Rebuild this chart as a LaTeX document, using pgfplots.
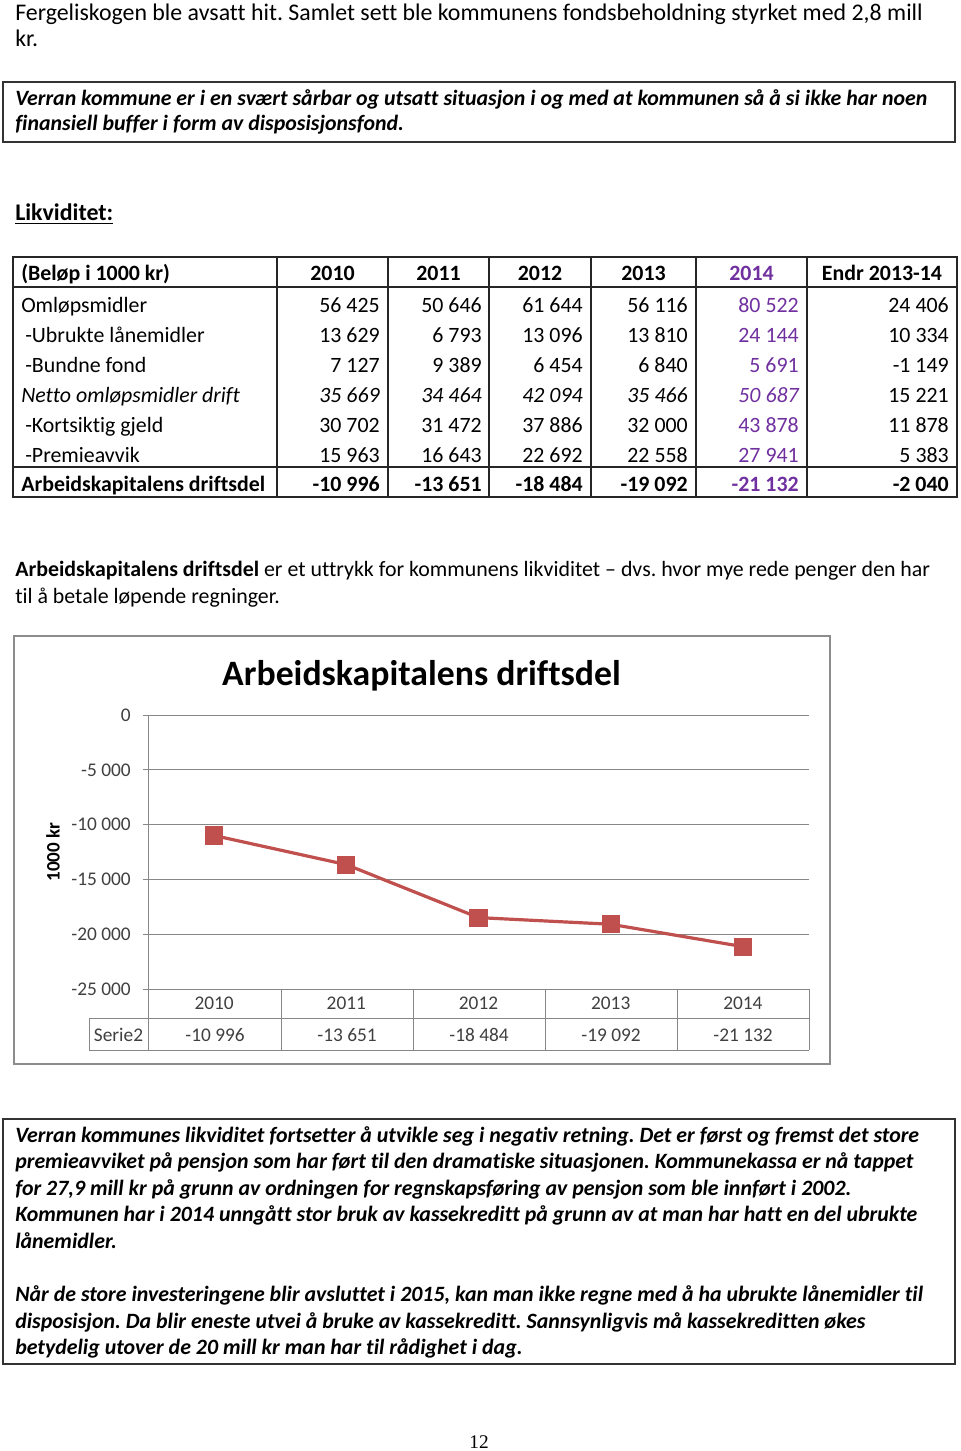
\documentclass[border=0pt]{standalone}
\usepackage{fontspec}
\setmainfont{Carlito}[Ligatures=NoCommon]
\newfontfamily\serif{Liberation Serif}
\usepackage{pgfplots}
\pgfplotsset{compat=1.18}

\definecolor{excelred}{HTML}{C0504D}
\definecolor{wpurple}{HTML}{7030A0}
\definecolor{gridgray}{HTML}{878787}
\definecolor{labgray}{HTML}{404040}
\definecolor{framegray}{HTML}{8C8C8C}
\newcommand\tsize{\fontsize{16.4}{19.5}\selectfont}
\newcommand\bsize{\fontsize{17.9}{21}\selectfont}
% one table row of numbers: y, font, endr font, 2010..2014, endr
\newcommand\vals[9]{%
  \node[t,anchor=base east,font={\tsize#2}] at (380,#1) {#4};
  \node[t,anchor=base east,font={\tsize#2}] at (482,#1) {#5};
  \node[t,anchor=base east,font={\tsize#2}] at (583,#1) {#6};
  \node[t,anchor=base east,font={\tsize#2}] at (688,#1) {#7};
  \node[t,anchor=base east,font={\tsize#2},text=wpurple] at (799,#1) {#8};
  \node[t,anchor=base east,font={\tsize#3}] at (949,#1) {#9};}

\begin{document}
\frenchspacing
\begin{tikzpicture}
\begin{scope}[x=0.75pt,y=-0.75pt]
\tikzset{t/.style={inner sep=0pt, font=\tsize}}
\fill[white] (0,0) rectangle (960,1451);
% text above
\node[t,anchor=base west,font=\bsize] at (15,21) {Fergeliskogen ble avsatt hit. Samlet sett ble kommunens fondsbeholdning styrket med 2,8 mill};
\node[t,anchor=base west,font=\bsize] at (15,47) {kr.};
\draw[black!80, line width=1.1pt] (3,82) rectangle (955,142);
\node[t,anchor=base west,font={\tsize\bfseries\itshape}] at (15,106) {Verran kommune er i en svært sårbar og utsatt situasjon i og med at kommunen så å si ikke har noen};
\node[t,anchor=base west,font={\tsize\bfseries\itshape}] at (15,131) {finansiell buffer i form av disposisjonsfond.};
\node[t,anchor=base west,font={\bsize\bfseries}] at (15,221) {\underline{Likviditet:}};
% table
\draw[black!85, line width=1.1pt] (13,257) rectangle (957,497);
\draw[black!85, line width=1.1pt] (13,287) -- (957,287) (13,467) -- (957,467);
\foreach \x in {277,388,489,591,696,807} \draw[black!85, line width=1.1pt] (\x,257) -- (\x,497);
\node[t,anchor=base west,font={\tsize\bfseries}] at (21,281) {(Beløp i 1000 kr)};
\foreach \x/\v in {332.5/2010,438.5/2011,540/2012,643.5/2013,882/Endr 2013-14}
  \node[t,anchor=base,font={\tsize\bfseries}] at (\x,281) {\v};
\node[t,anchor=base,font={\tsize\bfseries},text=wpurple] at (751.5,281) {2014};
\node[t,anchor=base west] at (21,312) {Omløpsmidler};
\node[t,anchor=base west] at (25,342) {-Ubrukte lånemidler};
\node[t,anchor=base west] at (25,372) {-Bundne fond};
\node[t,anchor=base west,font={\tsize\itshape}] at (21,402) {Netto omløpsmidler drift};
\node[t,anchor=base west] at (25,432) {-Kortsiktig gjeld};
\node[t,anchor=base west] at (25,462) {-Premieavvik};
\node[t,anchor=base west,font={\tsize\bfseries}] at (21,491) {Arbeidskapitalens driftsdel};
\vals{312}{}{}{56 425}{50 646}{61 644}{56 116}{80 522}{24 406}
\vals{342}{}{}{13 629}{6 793}{13 096}{13 810}{24 144}{10 334}
\vals{372}{}{}{7 127}{9 389}{6 454}{6 840}{5 691}{-1 149}
\vals{402}{\itshape}{}{35 669}{34 464}{42 094}{35 466}{50 687}{15 221}
\vals{432}{}{}{30 702}{31 472}{37 886}{32 000}{43 878}{11 878}
\vals{462}{}{}{15 963}{16 643}{22 692}{22 558}{27 941}{5 383}
\vals{491}{\bfseries}{\bfseries}{-10 996}{-13 651}{-18 484}{-19 092}{-21 132}{-2 040}
% paragraph
\node[t,anchor=base west] at (15,576) {\textbf{Arbeidskapitalens driftsdel} er et uttrykk for kommunens likviditet – dvs. hvor mye rede penger den har};
\node[t,anchor=base west] at (15,603) {til å betale løpende regninger.};
% chart frame and title
\draw[framegray, line width=1.5pt] (14,636) rectangle (830,1064);
\node[inner sep=0pt,anchor=base,font={\fontsize{26.8}{30}\selectfont\bfseries}] at (421.5,685) {Arbeidskapitalens driftsdel};
% box below
\draw[black!80, line width=1.1pt] (3,1119) rectangle (955,1364);
\foreach \y/\s in {1142/{Verran kommunes likviditet fortsetter å utvikle seg i negativ retning. Det er først og fremst det store},
  1168/{premieavviket på pensjon som har ført til den dramatiske situasjonen. Kommunekassa er nå tappet},
  1195/{for 27,9 mill kr på grunn av ordningen for regnskapsføring av pensjon som ble innført i 2002.},
  1221/{Kommunen har i 2014 unngått stor bruk av kassekreditt på grunn av at man har hatt en del ubrukte},
  1248/{lånemidler.},
  1301/{Når de store investeringene blir avsluttet i 2015, kan man ikke regne med å ha ubrukte lånemidler til},
  1328/{disposisjon. Da blir eneste utvei å bruke av kassekreditt. Sannsynligvis må kassekreditten økes},
  1354/{betydelig utover de 20 mill kr man har til rådighet i dag.}}
  \node[t,anchor=base west,font={\tsize\bfseries\itshape}] at (15,\y) {\s};
\node[inner sep=0pt,anchor=base,font={\serif\fontsize{14.5}{17}\selectfont}] at (479,1448) {12};
\end{scope}

\begin{axis}[
  at={(111pt,-741.75pt)}, anchor=south west,
  scale only axis, width=495.75pt, height=205.5pt,
  xmin=-0.5, xmax=4.5, ymin=-25000, ymax=0,
  xtick={0,...,4}, xticklabels={2010,2011,2012,2013,2014},
  ytick={-25000,-20000,...,0},
  yticklabels={-25 000,-20 000,-15 000,-10 000,-5 000,0},
  scaled y ticks=false,
  ymajorgrids, grid style={gridgray, line width=0.75pt},
  axis line style={draw=none},
  tick align=outside, major tick length=3.75pt,
  ytick pos=left, xtick style={draw=none},
  ytick style={gridgray, line width=0.75pt},
  ticklabel style={font=\fontsize{14.5}{17}\selectfont, text=labgray},
  yticklabel style={anchor=east, inner sep=0pt, xshift=-9pt},
  xticklabel style={anchor=center, inner sep=0pt, yshift=-7.1pt},
  ylabel={1000 kr},
  ylabel style={font=\fontsize{14.3}{17}\selectfont\bfseries, at={(axis description cs:-0.1437,0.5)}, anchor=center},
  clip=false,
]
\addplot[excelred, line width=2.4pt, mark=square*, mark size=5.6pt, mark options={solid, fill=excelred}]
  coordinates {(0,-10996) (1,-13651) (2,-18484) (3,-19092) (4,-21132)};
\end{axis}

\begin{scope}[x=0.75pt,y=-0.75pt]
\draw[gridgray, line width=0.75pt] (148,715) -- (148,1050);
\draw[gridgray, line width=0.75pt] (89,1018) -- (809,1018) (89,1050) -- (809,1050) (89,1018) -- (89,1050);
\foreach \x in {281,413,545,677,809} \draw[gridgray, line width=0.75pt] (\x,989) -- (\x,1050);
\foreach \x/\v in {118.5/Serie2,215/-10 996,347/-13 651,479/-18 484,611/-19 092,743/-21 132}
  \node[inner sep=0pt,anchor=base,text=labgray,font=\fontsize{14.5}{17}\selectfont] at (\x,1041) {\v};
\end{scope}
\end{tikzpicture}
\end{document}
